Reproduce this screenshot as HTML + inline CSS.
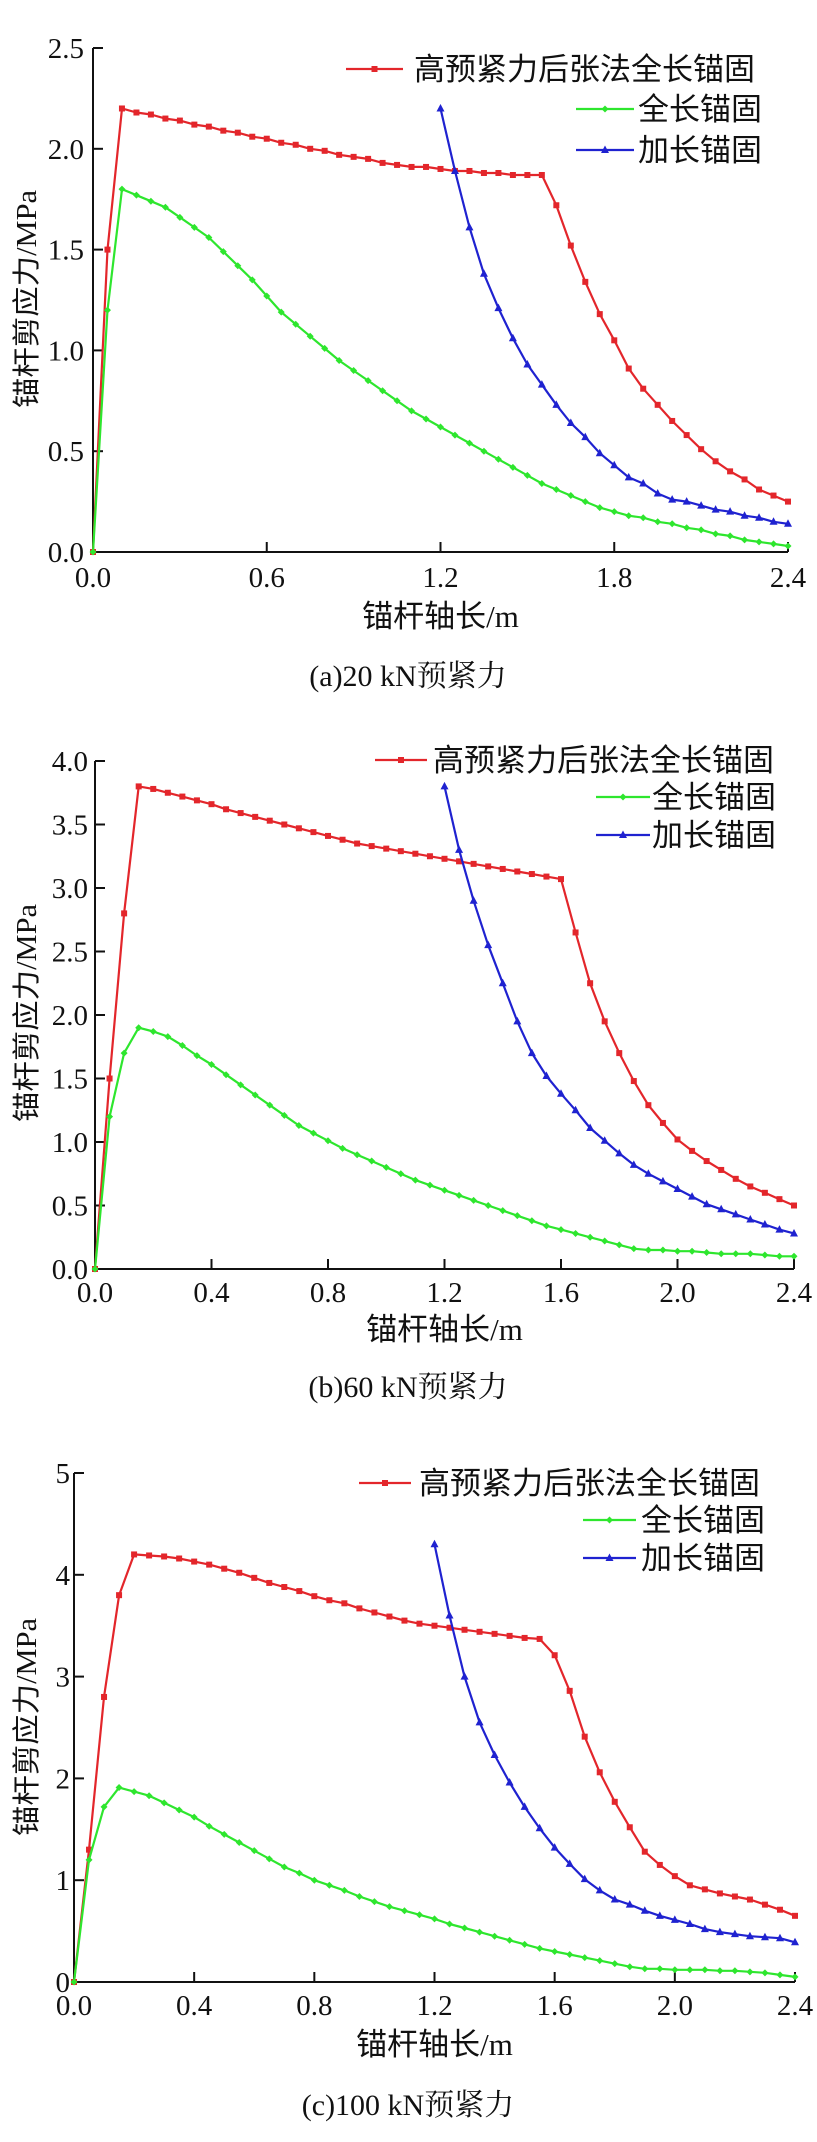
<!DOCTYPE html>
<html><head><meta charset="utf-8">
<style>
html,body{margin:0;padding:0;background:#fff;}
svg{display:block;}
text{font-family:"Liberation Serif","Noto Serif CJK SC",serif;fill:#111;}
.cjk{font-family:"Liberation Serif","Noto Sans CJK SC",sans-serif;}
</style></head>
<body>
<svg id="fig" width="817" height="2142" viewBox="0 0 817 2142" xmlns="http://www.w3.org/2000/svg"></svg>
<script>
// ---- data ----
const xFull = [0,0.05,0.1,0.15,0.2,0.25,0.3,0.35,0.4,0.45,0.5,0.55,0.6,0.65,0.7,0.75,0.8,0.85,0.9,0.95,1.0,1.05,1.1,1.15,1.2,1.25,1.3,1.35,1.4,1.45,1.5,1.55,1.6,1.65,1.7,1.75,1.8,1.85,1.9,1.95,2.0,2.05,2.1,2.15,2.2,2.25,2.3,2.35,2.4];
const xBlue = [1.2,1.25,1.3,1.35,1.4,1.45,1.5,1.55,1.6,1.65,1.7,1.75,1.8,1.85,1.9,1.95,2.0,2.05,2.1,2.15,2.2,2.25,2.3,2.35,2.4];
const seriesNames = ["高预紧力后张法全长锚固","全长锚固","加长锚固"];

const redA = [0,1.5,2.2,2.18,2.17,2.15,2.14,2.12,2.11,2.09,2.08,2.06,2.05,2.03,2.02,2.00,1.99,1.97,1.96,1.95,1.93,1.92,1.91,1.91,1.90,1.89,1.89,1.88,1.88,1.87,1.87,1.87,1.72,1.52,1.34,1.18,1.05,0.91,0.81,0.73,0.65,0.58,0.51,0.45,0.40,0.36,0.31,0.28,0.25];
const greenA = [0,1.2,1.8,1.77,1.74,1.71,1.66,1.61,1.56,1.49,1.42,1.35,1.27,1.19,1.13,1.07,1.01,0.95,0.90,0.85,0.80,0.75,0.70,0.66,0.62,0.58,0.54,0.50,0.46,0.42,0.38,0.34,0.31,0.28,0.25,0.22,0.20,0.18,0.17,0.15,0.14,0.12,0.11,0.09,0.08,0.06,0.05,0.04,0.03];
const blueA = [2.2,1.89,1.61,1.38,1.21,1.06,0.93,0.83,0.73,0.64,0.57,0.49,0.43,0.37,0.34,0.29,0.26,0.25,0.23,0.21,0.20,0.18,0.17,0.15,0.14];

const redB = [0,1.5,2.8,3.8,3.78,3.75,3.72,3.69,3.66,3.62,3.59,3.56,3.53,3.50,3.47,3.44,3.41,3.38,3.35,3.33,3.31,3.29,3.27,3.25,3.23,3.21,3.19,3.17,3.15,3.13,3.11,3.09,3.07,2.65,2.25,1.95,1.70,1.48,1.29,1.15,1.02,0.93,0.85,0.78,0.71,0.65,0.60,0.55,0.50];
const greenB = [0,1.2,1.7,1.9,1.87,1.83,1.76,1.68,1.61,1.53,1.45,1.37,1.29,1.21,1.13,1.07,1.01,0.95,0.90,0.85,0.80,0.75,0.70,0.66,0.62,0.58,0.54,0.50,0.46,0.42,0.38,0.34,0.31,0.28,0.25,0.22,0.19,0.16,0.15,0.15,0.14,0.14,0.13,0.12,0.12,0.12,0.11,0.10,0.10];
const blueB = [3.8,3.3,2.9,2.55,2.25,1.95,1.70,1.52,1.38,1.25,1.11,1.01,0.91,0.82,0.75,0.69,0.63,0.57,0.51,0.47,0.43,0.39,0.35,0.31,0.28];

const redC = [0,1.3,2.8,3.8,4.2,4.19,4.18,4.16,4.13,4.10,4.06,4.02,3.97,3.92,3.88,3.84,3.79,3.75,3.72,3.67,3.63,3.59,3.55,3.52,3.50,3.48,3.46,3.44,3.42,3.40,3.38,3.37,3.21,2.86,2.41,2.06,1.77,1.52,1.28,1.15,1.04,0.95,0.91,0.87,0.84,0.81,0.76,0.71,0.65];
const greenC = [0,1.2,1.72,1.91,1.87,1.83,1.76,1.69,1.62,1.53,1.45,1.37,1.29,1.21,1.13,1.07,1.00,0.95,0.90,0.84,0.79,0.74,0.70,0.66,0.62,0.57,0.53,0.49,0.45,0.41,0.37,0.33,0.30,0.27,0.24,0.21,0.18,0.15,0.13,0.13,0.12,0.12,0.12,0.11,0.11,0.10,0.09,0.07,0.05];
const blueC = [4.3,3.6,3.0,2.55,2.23,1.96,1.72,1.51,1.32,1.16,1.01,0.90,0.81,0.76,0.70,0.65,0.61,0.57,0.52,0.49,0.47,0.45,0.44,0.43,0.39];

const xTicksA = ["0.0","0.6","1.2","1.8","2.4"];
const yTicksA = ["0.0","0.5","1.0","1.5","2.0","2.5"];
const xTicksBC = ["0.0","0.4","0.8","1.2","1.6","2.0","2.4"];
const yTicksB = ["0.0","0.5","1.0","1.5","2.0","2.5","3.0","3.5","4.0"];
const yTicksC = ["0","1","2","3","4","5"];
const titles = ["(a)20 kN预紧力","(b)60 kN预紧力","(c)100 kN预紧力"];

// ---- drawing ----
const NS = "http://www.w3.org/2000/svg";
const svg = document.getElementById("fig");
const COL = ["#e3262b","#2ee62e","#1f22d0"];
function mk(tag, attrs, parent){
  const e = document.createElementNS(NS, tag);
  for (const k in attrs) e.setAttribute(k, attrs[k]);
  (parent||svg).appendChild(e);
  return e;
}
function marker(g, kind, x, y, c){
  let m;
  if (kind===0) m = mk("rect",{x:x-3,y:y-3,width:6,height:6,fill:c},g);
  else if (kind===1) m = mk("path",{d:`M${x} ${y-3.5}L${x+3.5} ${y}L${x} ${y+3.5}L${x-3.5} ${y}Z`,fill:c},g);
  else m = mk("path",{d:`M${x} ${y-4.5}L${x+4} ${y+3}L${x-4} ${y+3}Z`,fill:c},g);
  return m;
}
function chart(cfg){
  const g = mk("g",{});
  
  
  const sx = v => cfg.x0 + (v - 0) / 2.4 * (cfg.x1 - cfg.x0);
  const sy = v => cfg.yb - v / cfg.ymax * (cfg.yb - cfg.yt);
  // axes
  const ax = mk("path",{d:`M${cfg.x0} ${cfg.yt}V${cfg.yb}H${cfg.x1}`,stroke:"#111","stroke-width":2,fill:"none"},g);
  
  
  cfg.yTicks.forEach(t=>{
    const y = sy(parseFloat(t));
    mk("line",{x1:cfg.x0,x2:cfg.x0+10,y1:y,y2:y,stroke:"#111","stroke-width":2},g);
    const tx = mk("text",{x:cfg.ylx,y:y+10,"text-anchor":"end","font-size":29},g);
    tx.textContent = t;
    
    
  });
  cfg.xTicks.forEach(t=>{
    const x = sx(parseFloat(t));
    mk("line",{x1:x,x2:x,y1:cfg.yb,y2:cfg.yb-10,stroke:"#111","stroke-width":2},g);
    const tx = mk("text",{x:x,y:cfg.tky+10,"text-anchor":"middle","font-size":29},g);
    tx.textContent = t;
    
    
  });
  // series
  const data = [[xFull,cfg.red],[xFull,cfg.green],[xBlue,cfg.blue]];
  const snames = ["series-red","series-green","series-blue"];
  data.forEach((d,i)=>{
    const sg = mk("g",{},g);
    
    
    const pts = d[0].map((xv,j)=>sx(xv).toFixed(1)+","+sy(d[1][j]).toFixed(1)).join(" ");
    mk("polyline",{points:pts,fill:"none",stroke:COL[i],"stroke-width":2.2,"stroke-linejoin":"round"},sg);
    d[0].forEach((xv,j)=>{
      const m = marker(sg,i,sx(xv),sy(d[1][j]),COL[i]);
      
      
    });
  });
  // legend
  const lg = mk("g",{},g);
  
  
  cfg.leg.forEach((L,i)=>{
    const eg = mk("g",{},lg);
    
    
    mk("line",{x1:L[0],x2:L[1],y1:L[3],y2:L[3],stroke:COL[i],"stroke-width":2.2},eg);
    marker(eg,i,(L[0]+L[1])/2,L[3],COL[i]);
    const t = mk("text",{x:L[2],y:L[3]+11,"font-size":31,class:"cjk"},eg);
    t.textContent = seriesNames[i];
  });
  // axis titles
  const xl = mk("text",{x:(cfg.x0+cfg.x1)/2,y:cfg.xly+11,"text-anchor":"middle","font-size":31,class:"cjk"},g);
  xl.textContent = "锚杆轴长/m";
  
  
  const yl = mk("text",{x:0,y:0,"text-anchor":"middle","font-size":28,class:"cjk",textLength:218,lengthAdjust:"spacingAndGlyphs",transform:`translate(${cfg.yTitleX},${cfg.yTitleY}) rotate(-90)`},g);
  yl.textContent = "锚杆剪应力/MPa";
  
  
  const tt = mk("text",{x:408,y:cfg.tty+11,"text-anchor":"middle","font-size":30},g);
  tt.textContent = cfg.title;
  
  
}
chart({name:"chart-a",x0:93,x1:788,yt:48,yb:552,ymax:2.5,xTicks:xTicksA,yTicks:yTicksA,ylx:84,tky:577,xly:616,tty:675,
  red:redA,green:greenA,blue:blueA,title:titles[0],yTitleX:36,yTitleY:299,
  leg:[[346,403,414,69],[576,634,638,109],[576,634,638,150]]});
chart({name:"chart-b",x0:95,x1:794,yt:761,yb:1269,ymax:4.0,xTicks:xTicksBC,yTicks:yTicksB,ylx:88,tky:1292,xly:1329,tty:1386,
  red:redB,green:greenB,blue:blueB,title:titles[1],yTitleX:36,yTitleY:1013,
  leg:[[375,427,433,760],[596,650,652,797],[596,650,652,835]]});
chart({name:"chart-c",x0:74,x1:795,yt:1473,yb:1982,ymax:5,xTicks:xTicksBC,yTicks:yTicksC,ylx:70,tky:2005,xly:2044,tty:2104,
  red:redC,green:greenC,blue:blueC,title:titles[2],yTitleX:36,yTitleY:1727,
  leg:[[359,411,419,1483],[583,636,641,1520],[583,636,641,1558]]});
</script>
</body></html>
